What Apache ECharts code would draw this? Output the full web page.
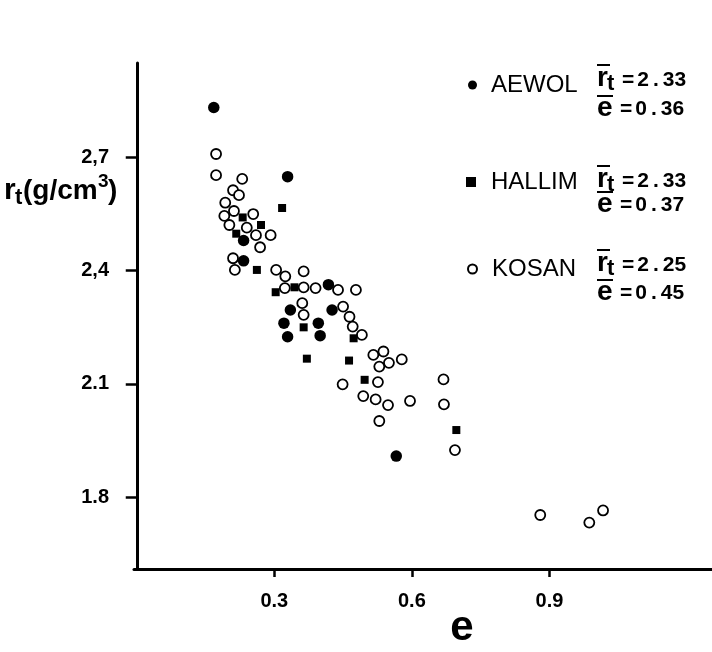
<!DOCTYPE html>
<html>
<head>
<meta charset="utf-8">
<script src="https://cdn.jsdelivr.net/npm/echarts@6/dist/echarts.min.js"></script>
<style>
html,body{margin:0;padding:0;background:#fff;}
#chart{width:712px;height:652px;}
</style>
</head>
<body>
<div id="chart"></div>
<script>
// ---- data ----
const seriesNames = ['AEWOL', 'HALLIM', 'KOSAN'];

// [void ratio e, unit weight r_t]
const aewol = [
  [0.168, 2.832], [0.329, 2.649], [0.233, 2.480], [0.233, 2.426],
  [0.418, 2.363], [0.335, 2.296], [0.426, 2.296], [0.321, 2.261],
  [0.396, 2.261], [0.329, 2.225], [0.400, 2.228], [0.566, 1.909]
];
const hallim = [
  [0.231, 2.541], [0.317, 2.566], [0.271, 2.521], [0.217, 2.498],
  [0.262, 2.402], [0.303, 2.343], [0.344, 2.356], [0.364, 2.250],
  [0.473, 2.221], [0.371, 2.167], [0.463, 2.162], [0.497, 2.111],
  [0.697, 1.978]
];
const kosan = [
  [0.173, 2.709], [0.173, 2.653], [0.230, 2.643], [0.210, 2.613],
  [0.223, 2.600], [0.193, 2.580], [0.212, 2.558], [0.191, 2.545],
  [0.254, 2.550], [0.202, 2.521], [0.240, 2.514], [0.260, 2.494],
  [0.292, 2.494], [0.269, 2.462], [0.210, 2.433], [0.214, 2.402],
  [0.304, 2.402], [0.324, 2.385], [0.364, 2.398], [0.323, 2.354],
  [0.364, 2.356], [0.390, 2.354], [0.439, 2.349], [0.478, 2.349],
  [0.361, 2.314], [0.364, 2.283], [0.450, 2.305], [0.464, 2.278],
  [0.471, 2.252], [0.491, 2.230], [0.516, 2.177], [0.538, 2.186],
  [0.529, 2.146], [0.550, 2.156], [0.578, 2.165], [0.449, 2.099],
  [0.526, 2.105], [0.494, 2.068], [0.521, 2.059], [0.548, 2.044],
  [0.596, 2.055], [0.529, 2.002], [0.669, 2.112], [0.670, 2.046],
  [0.694, 1.925], [0.880, 1.753], [0.987, 1.733], [1.017, 1.765]
];

const xTickValues = [0.3, 0.6, 0.9];
const xTickLabels = ['0.3', '0.6', '0.9'];
const yTickValues = [1.8, 2.1, 2.4, 2.7];
const yTickLabels = ['1.8', '2.1', '2,4', '2,7'];

const statR = ['2.33', '2.33', '2.25'];
const statE = ['0.36', '0.37', '0.45'];

// ---- chart ----
const FONT = 'Liberation Sans, Arial, sans-serif';
function lab(values, labels) {
  return function (v) {
    for (let i = 0; i < values.length; i++) {
      if (Math.abs(values[i] - v) < 1e-6) return labels[i];
    }
    return '';
  };
}
function spaced(valStr) {
  const parts = valStr.split('.');
  return '{q|=}{n|' + parts[0] + '}{d|.}{n|' + parts[1] + '}';
}
const valRich = {
  q: {fontSize: 21, fontWeight: 'bold', fontFamily: FONT, fill: '#000', color: '#000', padding: [0, 3, 0, 0]},
  n: {fontSize: 21, fontWeight: 'bold', fontFamily: FONT, fill: '#000', color: '#000'},
  d: {fontSize: 21, fontWeight: 'bold', fontFamily: FONT, fill: '#000', color: '#000', padding: [0, 4, 0, 4]}
};

const chart = echarts.init(document.getElementById('chart'), null, {renderer: 'canvas'});

const statBlocks = [
  {ry: 78, ey: 108},
  {ry: 179, ey: 204},
  {ry: 263, ey: 292}
];
function txt(x, y, s, font, align) {
  return {type: 'text', x: x, y: y, style: {text: s, font: font, fill: '#000',
    textAlign: align || 'left', textVerticalAlign: 'middle', align: align || 'left', verticalAlign: 'middle'}};
}
const graphics = [];
statBlocks.forEach(function (b, i) {
  const rv = txt(622, b.ry + 2, spaced(statR[i]), 'bold 21px ' + FONT);
  rv.style.rich = valRich;
  const ev = txt(620, b.ey + 1, spaced(statE[i]), 'bold 21px ' + FONT);
  ev.style.rich = valRich;
  graphics.push(
    txt(597, b.ry, 'r', 'bold 28px ' + FONT),
    txt(607, b.ry + 6, 't', 'bold 22px ' + FONT),
    rv,
    {type: 'line', shape: {x1: 597, y1: b.ry - 13, x2: 610, y2: b.ry - 13}, style: {stroke: '#000', lineWidth: 2}},
    txt(597, b.ey, 'e', 'bold 28px ' + FONT),
    ev,
    {type: 'line', shape: {x1: 597, y1: b.ey - 12, x2: 613, y2: b.ey - 12}, style: {stroke: '#000', lineWidth: 2}}
  );
});
// y axis title r_t(g/cm3) and x axis title e
graphics.push(
  txt(4, 191, 'r', 'bold 30px ' + FONT),
  txt(15, 198, 't', 'bold 22px ' + FONT),
  txt(23, 191, '(g/cm', 'bold 28px ' + FONT),
  txt(98, 182, '3', 'bold 19px ' + FONT),
  txt(108, 191, ')', 'bold 28px ' + FONT),
  txt(462, 628, 'e', 'bold 42px ' + FONT, 'center')
);

function legendCfg(name, left, cy, size, pad) {
  return {
    data: [name], left: left, top: cy - 13, padding: 0, itemWidth: size, itemHeight: size,
    selectedMode: false,
    textStyle: {fontSize: 24, color: '#000', fontFamily: FONT, padding: [0, 0, 0, pad]}
  };
}

const option = {
  backgroundColor: '#fff',
  animation: false,
  grid: {left: 134, right: 0, top: 63, bottom: 83, containLabel: false, outerBoundsMode: 'none'},
  xAxis: {
    type: 'value', min: -0.006, max: 1.2546,
    axisLine: {show: true, lineStyle: {color: '#000', width: 3}},
    axisTick: {show: true, length: 8, lineStyle: {color: '#000', width: 2.5}, customValues: xTickValues},
    axisLabel: {show: true, customValues: xTickValues, formatter: lab(xTickValues, xTickLabels),
      fontSize: 20, fontWeight: 'bold', color: '#000', fontFamily: FONT, margin: 22},
    splitLine: {show: false}
  },
  yAxis: {
    type: 'value', min: 1.61, max: 2.95,
    axisLine: {show: true, lineStyle: {color: '#000', width: 3}},
    axisTick: {show: true, length: 11, lineStyle: {color: '#000', width: 2.5}, customValues: yTickValues},
    axisLabel: {show: true, customValues: yTickValues, formatter: lab(yTickValues, yTickLabels),
      fontSize: 20, fontWeight: 'bold', color: '#000', fontFamily: FONT, margin: 25},
    splitLine: {show: false}
  },
  legend: [
    legendCfg('AEWOL', 468, 86, 9, 9),
    legendCfg('HALLIM', 466, 183, 10, 10),
    legendCfg('KOSAN', 467, 270, 9, 10)
  ],
  graphic: {elements: graphics},
  series: [
    {name: 'KOSAN', type: 'scatter', data: kosan, symbol: 'circle', symbolSize: 10, z: 2,
      itemStyle: {color: '#fff', borderColor: '#000', borderWidth: 1.8, opacity: 1}},
    {name: 'AEWOL', type: 'scatter', data: aewol, symbol: 'circle', symbolSize: 11.5, z: 3,
      itemStyle: {color: '#000', opacity: 1}},
    {name: 'HALLIM', type: 'scatter', data: hallim, symbol: 'rect', symbolSize: 8, z: 3,
      itemStyle: {color: '#000', opacity: 1}}
  ]
};
chart.setOption(option);
</script>
</body>
</html>
